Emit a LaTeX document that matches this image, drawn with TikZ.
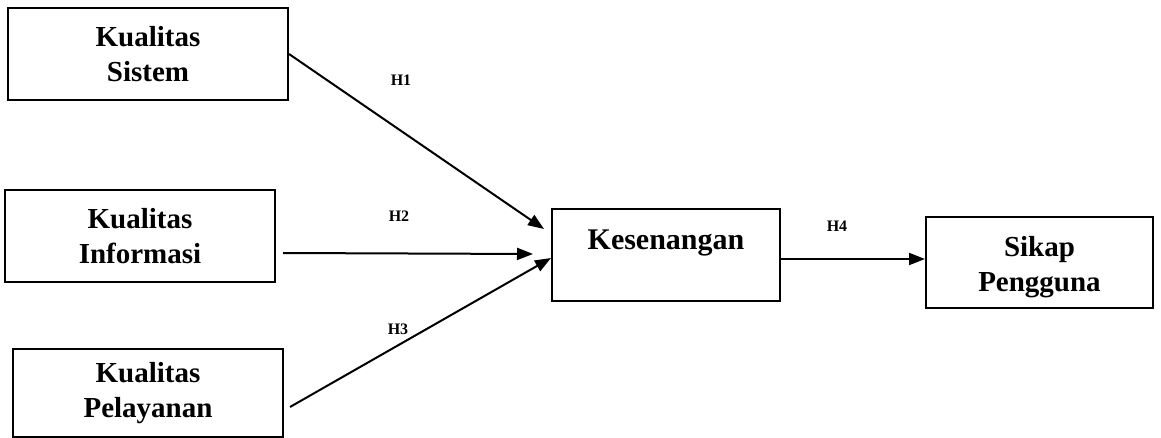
\documentclass[tikz,border=0pt]{standalone}
\usepackage{fontspec}
\setmainfont{Liberation Serif}
\usetikzlibrary{arrows.meta}
\begin{document}
\begin{tikzpicture}[x=1pt,y=-1pt,
  box/.style={draw, line width=2pt, rectangle, inner sep=0pt, align=center,
    font=\fontsize{29}{35}\selectfont\bfseries},
  conn/.style={line width=2pt, -{Triangle[length=16pt,width=12pt]}},
  hlab/.style={font=\fontsize{16}{18}\selectfont\bfseries}]
\useasboundingbox (0,0) rectangle (1161,438);
\node[box, minimum width=280pt, minimum height=92pt] (ks) at (148,54) {Kualitas\\Sistem};
\node[box, minimum width=270pt, minimum height=92pt] (ki) at (140,236) {Kualitas\\Informasi};
\node[box, minimum width=270pt, minimum height=88pt] (kp) at (148,393) {Kualitas\\Pelayanan};
\node[box, minimum width=228pt, minimum height=91pt] (kes) at (666,255) {};
\node[font=\fontsize{30}{35}\selectfont\bfseries] (kest) at (666,243) {Kesenangan};
\node[box, minimum width=227pt, minimum height=91pt] (sp) at (1039.5,262.5) {};
\node[align=center, font=\fontsize{29}{35}\selectfont\bfseries] (spt) at (1039.5,267) {Sikap\\Pengguna};
\coordinate (t1) at (544,229);
\coordinate (s2) at (283,253);
\coordinate (t2) at (533,254);
\coordinate (s3) at (290,407);
\coordinate (t3) at (551,258);
\draw[conn] (ks.east) -- (t1);
\draw[conn] (s2) -- (t2);
\draw[conn] (s3) -- (t3);
\draw[conn] (kes.east |- 0,259) -- (sp.west |- 0,259);
\node[hlab] (h1) at (401,80) {H1};
\node[hlab] (h2) at (399,216) {H2};
\node[hlab] (h3) at (398,329) {H3};
\node[hlab] (h4) at (837,226) {H4};
\end{tikzpicture}
\end{document}
